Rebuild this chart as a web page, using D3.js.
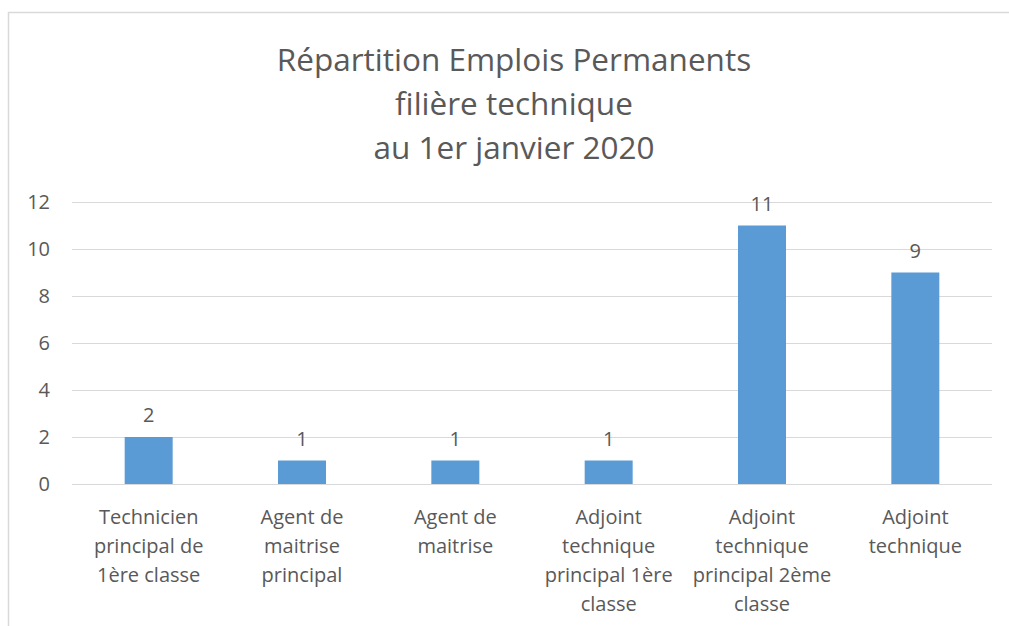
<!DOCTYPE html>
<html>
<head>
<meta charset="utf-8">
<script src="https://cdn.jsdelivr.net/npm/d3@7"></script>
<style>
  body { margin: 0; background: #fff; }
  svg { display: block; font-family: "Open Sans", Lato, sans-serif; }
</style>
</head>
<body>
<svg id="chart" width="1009" height="626"></svg>
<script>
(function () {
    'use strict';

    const W = 1009, H = 626;

    // Data
    const titleLines = ['Répartition Emplois Permanents', 'filière technique', 'au 1er janvier 2020'];
    const categories = [
        ['Technicien', 'principal de', '1ère classe'],
        ['Agent de', 'maitrise', 'principal'],
        ['Agent de', 'maitrise'],
        ['Adjoint', 'technique', 'principal 1ère', 'classe'],
        ['Adjoint', 'technique', 'principal 2ème', 'classe'],
        ['Adjoint', 'technique']
    ];
    const values = [2, 1, 1, 1, 11, 9];
    const yTicks = [0, 2, 4, 6, 8, 10, 12];

    const TEXT = '#595959';
    const GRID = '#d9d9d9';
    const BAR = '#5b9bd5';

    const svg = d3.select('#chart');

    // Chart frame
    svg.append('rect')
        .attr('x', 8.5).attr('y', 12.5)
        .attr('width', W + 10).attr('height', H + 10)
        .attr('fill', 'none').attr('stroke', '#d9d9d9').attr('stroke-width', 1.5);

    // Title
    svg.append('text')
        .attr('text-anchor', 'middle')
        .attr('fill', TEXT)
        .attr('font-size', 31.5)
        .selectAll('tspan')
        .data(titleLines)
        .enter()
        .append('tspan')
        .attr('x', 514)
        .attr('y', function (d, i) { return 71 + i * 44; })
        .text(function (d) { return d; });

    const x = d3.scaleBand()
        .domain(d3.range(categories.length))
        .range([72, 992])
        .padding(0);

    const y = d3.scaleLinear()
        .domain([0, 12])
        .range([484, 202]);

    const barW = x.bandwidth() * 0.313;

    // Gridlines
    svg.append('g')
        .selectAll('line')
        .data(yTicks)
        .enter()
        .append('line')
        .attr('x1', 72).attr('x2', 992)
        .attr('y1', function (d) { return Math.round(y(d)) + 0.5; })
        .attr('y2', function (d) { return Math.round(y(d)) + 0.5; })
        .attr('stroke', GRID).attr('stroke-width', 1);

    // Y axis labels
    svg.append('g')
        .selectAll('text')
        .data(yTicks)
        .enter()
        .append('text')
        .attr('x', 50)
        .attr('y', function (d) { return y(d); })
        .attr('dy', '0.35em')
        .attr('text-anchor', 'end')
        .attr('fill', TEXT)
        .attr('font-size', 20)
        .text(function (d) { return d; });

    // Bars
    svg.append('g')
        .selectAll('rect')
        .data(values)
        .enter()
        .append('rect')
        .attr('x', function (d, i) { return x(i) + (x.bandwidth() - barW) / 2; })
        .attr('y', function (d) { return y(d); })
        .attr('width', barW)
        .attr('height', function (d) { return y(0) - y(d); })
        .attr('fill', BAR);

    // Value labels
    svg.append('g')
        .selectAll('text')
        .data(values)
        .enter()
        .append('text')
        .attr('x', function (d, i) { return x(i) + x.bandwidth() / 2; })
        .attr('y', function (d) { return y(d) - 15; })
        .attr('text-anchor', 'middle')
        .attr('fill', TEXT)
        .attr('font-size', 20)
        .text(function (d) { return d; });

    // Category labels
    svg.append('g')
        .selectAll('text')
        .data(categories)
        .enter()
        .append('text')
        .attr('text-anchor', 'middle')
        .attr('fill', TEXT)
        .attr('font-size', 20)
        .each(function (lines, i) {
            d3.select(this).selectAll('tspan')
                .data(lines)
                .enter()
                .append('tspan')
                .attr('x', x(i) + x.bandwidth() / 2)
                .attr('y', function (d, j) { return 524 + j * 29; })
                .text(function (d) { return d; });
        });
})();
</script>
</body>
</html>
